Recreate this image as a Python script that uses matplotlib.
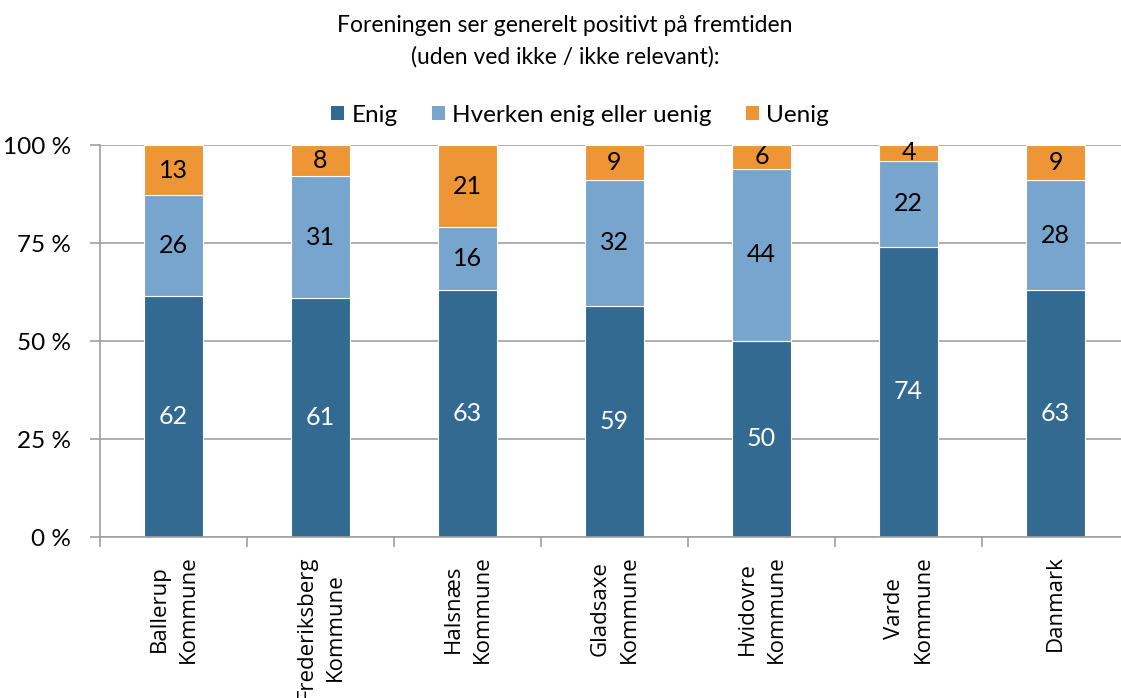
import numpy as np
import matplotlib
matplotlib.use('Agg')
import matplotlib.pyplot as plt
from matplotlib.patches import Patch

categories = [
    'Ballerup\nKommune',
    'Frederiksberg\nKommune',
    'Halsnæs\nKommune',
    'Gladsaxe\nKommune',
    'Hvidovre\nKommune',
    'Varde\nKommune',
    'Danmark',
]
enig = [62, 61, 63, 59, 50, 74, 63]
hverken = [26, 31, 16, 32, 44, 22, 28]
uenig = [13, 8, 21, 9, 6, 4, 9]

series_names = ['Enig', 'Hverken enig eller uenig', 'Uenig']
series_colors = ['#336A92', '#78A5CD', '#EE9536']
label_colors = ['white', 'black', 'black']
y_ticks = [0, 25, 50, 75, 100]

W, H = 1121, 698
fig = plt.figure(figsize=(W / 100, H / 100), dpi=100)
# plot area in pixels: x from 100, one category = 147 px, y 145..537
ax = fig.add_axes([100 / W, (H - 537) / H, 7 * 147 / W, (537 - 145) / H])

data = np.array([enig, hverken, uenig], dtype=float)
totals = data.sum(axis=0)
shares = data / totals * 100  # 100 % stacked like Excel

x = np.arange(len(categories))
bottom = np.zeros(len(categories))
for i in range(3):
    ax.bar(x, shares[i], 0.4, bottom=bottom, color=series_colors[i],
           edgecolor='white', linewidth=0.8, zorder=3)
    for j in range(len(categories)):
        ax.text(x[j], bottom[j] + shares[i][j] / 2, '{:d}'.format(int(data[i][j])),
                ha='center', va='center', fontsize=18, family='Lato',
                color=label_colors[i], zorder=4)
    bottom += shares[i]

ax.set_xlim(-0.5, len(categories) - 0.5)
ax.set_ylim(0, 100)
ax.set_yticks(y_ticks)
ax.set_yticklabels(['{} %'.format(t) for t in y_ticks], family='Lato', fontsize=17.5)
ax.yaxis.grid(True, color='#A0A0A0', linewidth=1.2, zorder=0)

# ticks between categories, labels at bar centres
ax.set_xticks(np.arange(-0.5, len(categories), 1.0))
ax.set_xticklabels([])
ax.set_xticks(x, minor=True)
ax.set_xticklabels(categories, minor=True, rotation=90, family='Open Sans',
                   fontsize=16, ha='center', va='top', multialignment='center',
                   linespacing=1.5)
ax.tick_params(axis='x', which='major', length=7, color='#A0A0A0', width=1.2)
ax.tick_params(axis='x', which='minor', length=0, pad=13)
ax.tick_params(axis='y', length=7, color='#A0A0A0', width=1.2, pad=14)

for side in ['top', 'right']:
    ax.spines[side].set_visible(False)
for side in ['left', 'bottom']:
    ax.spines[side].set_color('#A0A0A0')
    ax.spines[side].set_linewidth(1.2)
    ax.spines[side].set_zorder(5)

fig.text(565 / W, 1 - 25 / H, 'Foreningen ser generelt positivt på fremtiden',
         ha='center', va='center', family='Lato', fontsize=16.5)
fig.text(565 / W, 1 - 57 / H, '(uden ved ikke / ikke relevant):',
         ha='center', va='center', family='Lato', fontsize=16.5)

handles = [Patch(facecolor=c, edgecolor='none') for c in series_colors]
fig.legend(handles, series_names, loc='center', bbox_to_anchor=(580 / W, 1 - 115 / H),
           ncol=3, frameon=False, prop={'family': 'Lato', 'size': 17.5},
           handlelength=0.55, handleheight=0.55, handletextpad=0.3, columnspacing=1.4)

fig.savefig('out.png', dpi=100)
